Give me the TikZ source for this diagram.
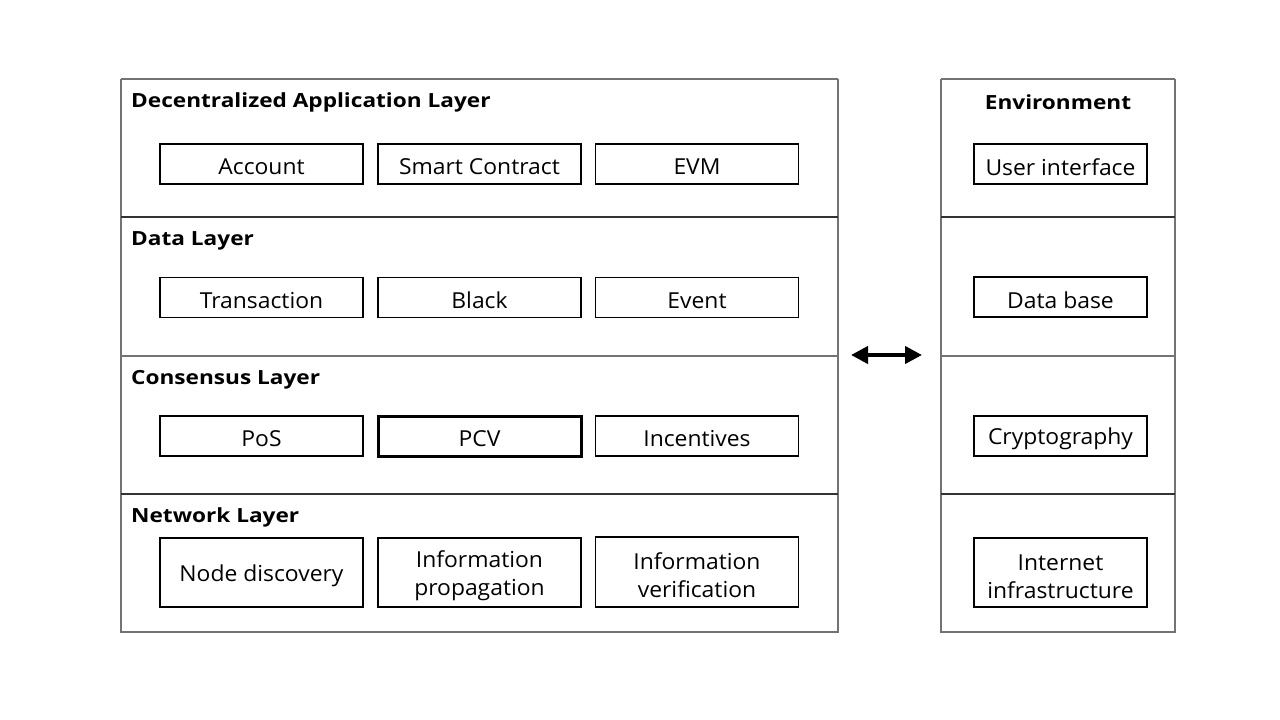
\documentclass[tikz,border=0pt]{standalone}
\usepackage{fontspec}
\setmainfont{Open Sans}
\newfontfamily\titlefont[FakeStretch=1.16]{Open Sans}
\newfontfamily\bodyfont[FakeStretch=1.04]{Open Sans}
\newcommand\dn[1]{\raisebox{-3pt}[\height][\depth]{#1}}
\newcommand\topstrut{\rule{0pt}{24pt}}
\usetikzlibrary{arrows.meta}
\begin{document}
\begin{tikzpicture}[x=1pt,y=-1pt,
  frame/.style={draw=black!55,line width=1.2pt},
  sep/.style={draw=black!80,line width=1.1pt},
  item/.style={draw=black,line width=1.8pt,minimum width=203pt,minimum height=40pt,inner sep=0pt,align=center,font=\bodyfont\fontsize{22}{28}\selectfont},
  ritem/.style={item,minimum width=173pt},
  title/.style={anchor=west,inner sep=0pt,font=\titlefont\fontsize{19.5}{24}\bfseries\selectfont}]
\useasboundingbox (0,0) rectangle (1280,720);
% left panel
\draw[frame] (121,79) -- (838,79);
\draw[frame] (121,79) -- (121,632) -- (838,632) -- (838,79);
\draw[sep] (121,217) -- (838,217);
\draw[sep,draw=black!55] (121,356) -- (838,356);
\draw[sep] (121,494) -- (838,494);
% right panel
\draw[frame] (941,79) -- (1175,79);
\draw[frame] (941,79) -- (941,632) -- (1175,632) -- (1175,79);
\draw[sep] (941,217) -- (1175,217);
\draw[sep,draw=black!55] (941,356) -- (1175,356);
\draw[sep] (941,494) -- (1175,494);
% titles
\node[title] (t1) at (131,102.5) {Decentralized Application Layer};
\node[title] (t2) at (131,240.5) {Data Layer};
\node[title] (t3) at (131,379.5) {Consensus Layer};
\node[title] (t4) at (131,517.5) {Network Layer};
\node[title,anchor=center] (t5) at (1058,102) {Environment};
% row 1
\node[item] (a1) at (261.5,164) {\dn{Account}};
\node[item] (a2) at (479.5,164) {\dn{Smart Contract}};
\node[item] (a3) at (697,164) {\dn{EVM}};
% row 2
\node[item] (b1) at (261.5,297.5) {\dn{Transaction}};
\node[item] (b2) at (479.5,297.5) {\dn{Black}};
\node[item] (b3) at (697,297.5) {\dn{Event}};
% row 3
\node[item] (c1) at (261.5,436) {\dn{PoS}};
\node[item,line width=3pt] (c2) at (479.5,436) {\dn{PCV}};
\node[item] (c3) at (697,436) {\dn{Incentives}};
% row 4
\node[item,minimum height=69pt] (d1) at (261.5,572.5) {\dn{Node discovery}};
\node[item,minimum height=69pt] (d2) at (479.5,572.5) {\topstrut Information\\propagation};
\node[item,minimum height=70pt] (d3) at (697,572) {\topstrut Information\\verification};
% right column
\node[ritem] (e1) at (1060.5,164) {\dn{User interface}};
\node[ritem] (e2) at (1060.5,297) {\dn{Data base}};
\node[ritem] (e3) at (1060.5,436) {\dn{Cryptography}};
\node[ritem,minimum height=69pt] (e4) at (1060.5,572.5) {\topstrut Internet\\infrastructure};
% arrow
\coordinate (l) at (851,355);
\coordinate (r) at (922,355);
\draw[line width=4pt,{Triangle[length=17pt,width=17pt]}-{Triangle[length=17pt,width=17pt]}] (l) -- (r);
\end{tikzpicture}
\end{document}
